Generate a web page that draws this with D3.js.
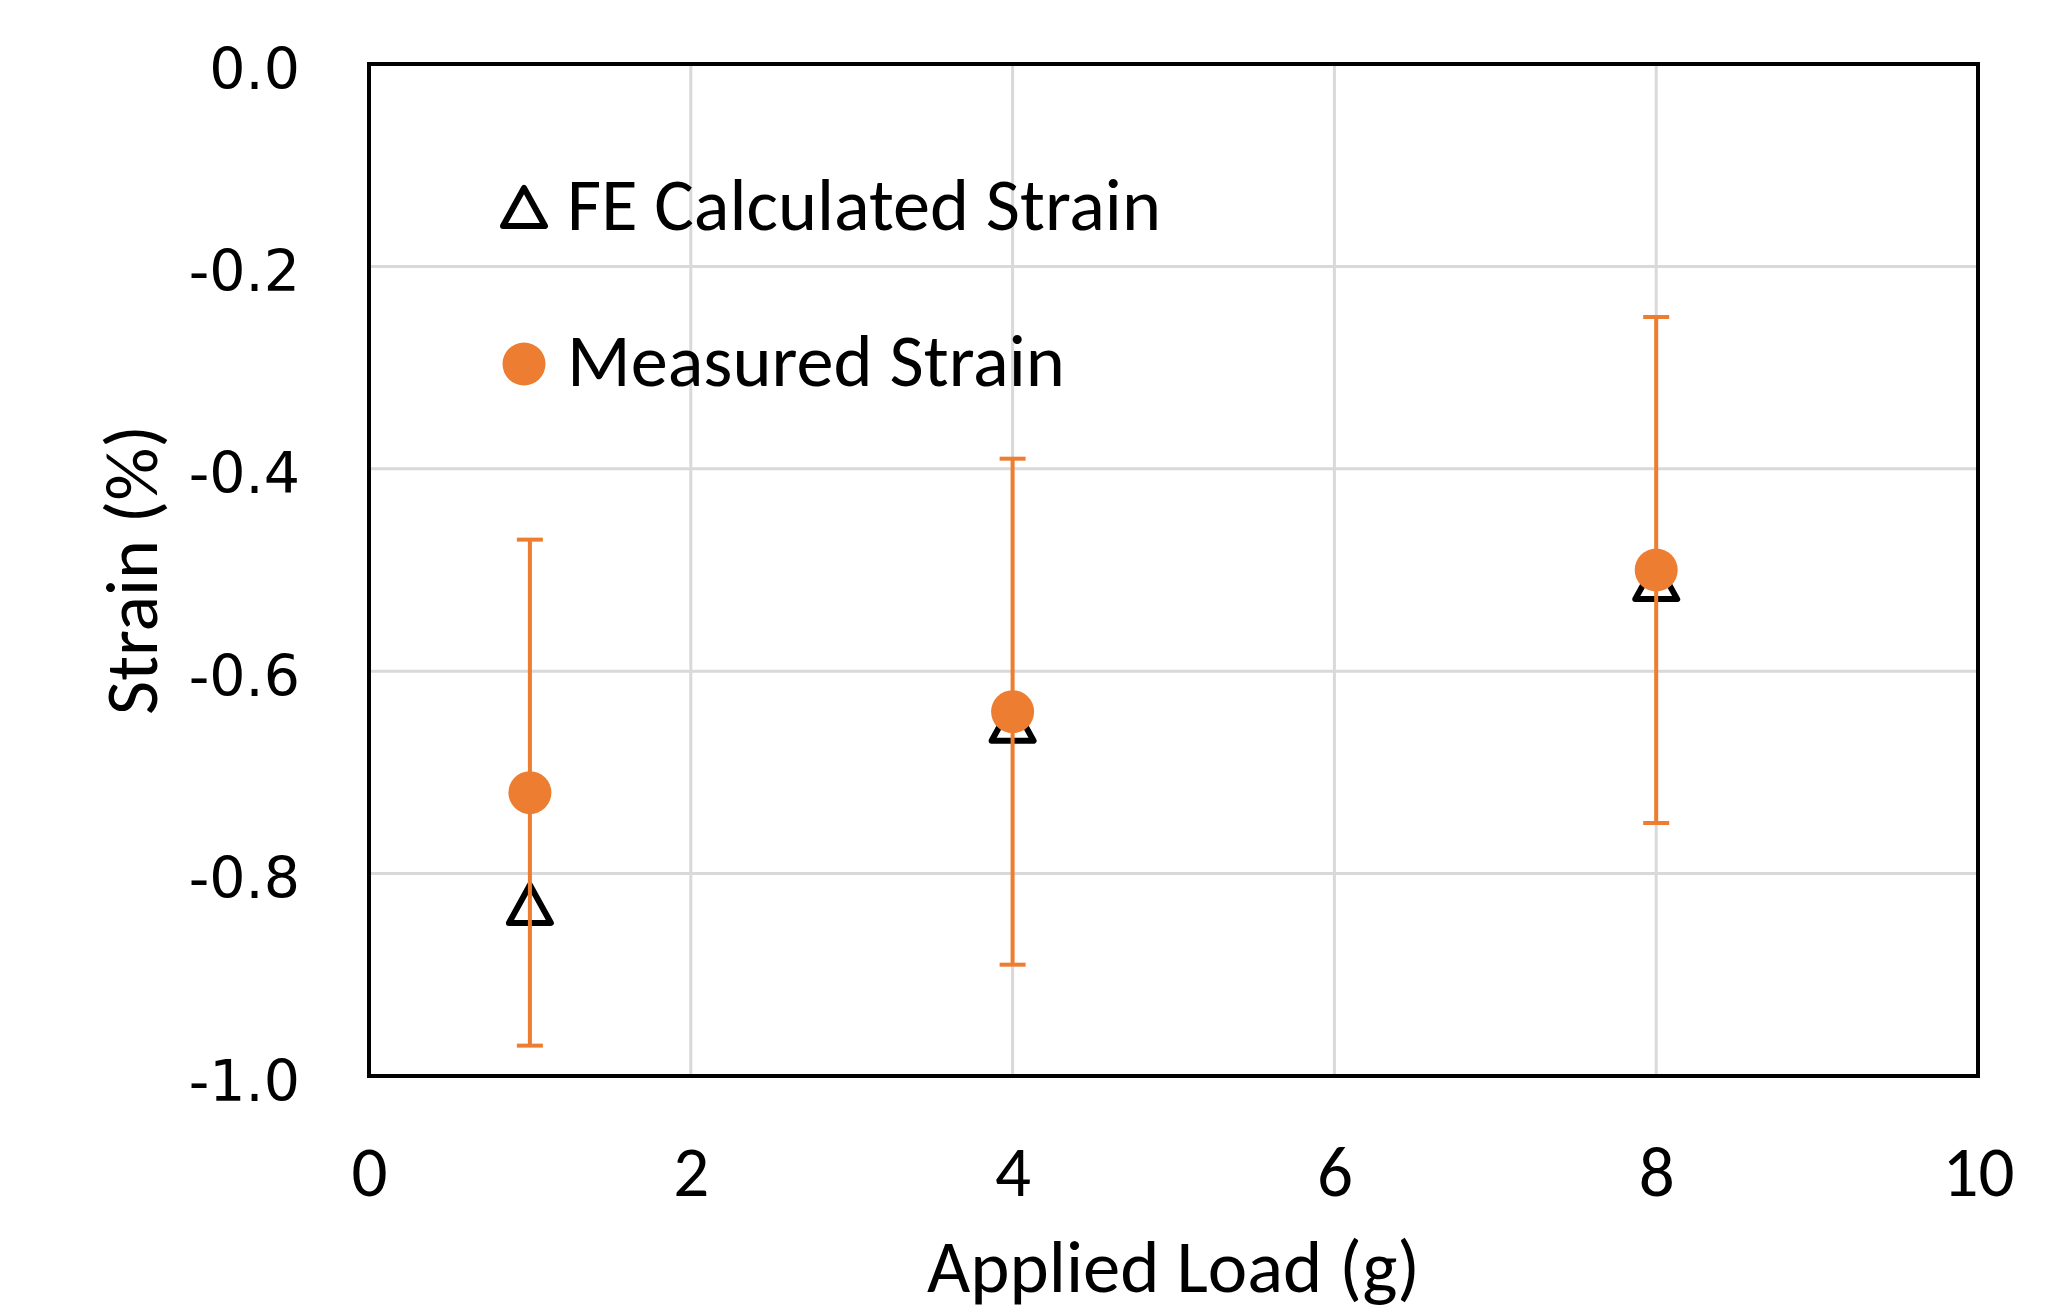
<!DOCTYPE html>
<html>
<head>
<meta charset="utf-8">
<script src="https://cdn.jsdelivr.net/npm/d3@7"></script>
<style>
  html, body { margin: 0; padding: 0; background: #ffffff; }
  svg { display: block; }
</style>
</head>
<body>
<svg id="chart" width="2066" height="1315"></svg>
<script>
// ---- Data ----
const xTickValues = [0, 2, 4, 6, 8, 10];
const yTickValues = [0, -0.2, -0.4, -0.6, -0.8, -1.0];
const appliedLoad = [1, 4, 8];
const feCalculatedStrain = [-0.83, -0.65, -0.51];
const measuredStrain = [-0.72, -0.64, -0.50];
const measuredErrorPlus = [0.25, 0.25, 0.25];
const measuredErrorMinus = [0.25, 0.25, 0.25];
const seriesNames = ["FE Calculated Strain", "Measured Strain"];
const xAxisTitle = "Applied Load (g)";
const yAxisTitle = "Strain (%)";

// ---- Layout / style ----
const W = 2066, H = 1315;
const plot = { left: 369, right: 1978, top: 64, bottom: 1076 };
const ORANGE = "#ED7D31";
const GRID = "#D9D9D9";
const labelFont = "Carlito, Lato, 'Open Sans', sans-serif";
const tickFontY = "'DejaVu Sans', Verdana, sans-serif";

const svg = d3.select("#chart");

const x = d3.scaleLinear().domain([0, 10]).range([plot.left, plot.right]);
const y = d3.scaleLinear().domain([-1.0, 0]).range([plot.bottom, plot.top]);

// fit text to a target width by adjusting font-size
function fitWidth(sel, target) {
  const node = sel.node();
  const fs = parseFloat(sel.attr("font-size"));
  const w = node.getComputedTextLength();
  if (w > 0) sel.attr("font-size", (fs * target / w).toFixed(2));
}

// ---- Gridlines ----
const gridG = svg.append("g");
gridG.selectAll("line.v")
  .data(xTickValues.filter(v => v > 0 && v < 10))
  .join("line")
  .attr("x1", d => x(d)).attr("x2", d => x(d))
  .attr("y1", plot.top).attr("y2", plot.bottom)
  .attr("stroke", GRID).attr("stroke-width", 3);
gridG.selectAll("line.h")
  .data(yTickValues.filter(v => v < 0 && v > -1))
  .join("line")
  .attr("x1", plot.left).attr("x2", plot.right)
  .attr("y1", d => y(d)).attr("y2", d => y(d))
  .attr("stroke", GRID).attr("stroke-width", 3);

// ---- Axes (labels only) ----
const xAxis = d3.axisBottom(x).tickValues(xTickValues).tickSize(0).tickFormat(d3.format("d"));
const xg = svg.append("g").attr("transform", `translate(0,${plot.bottom})`).call(xAxis);
xg.select(".domain").remove();
xg.selectAll("text")
  .attr("y", 120).attr("dy", 0)
  .attr("font-family", labelFont).attr("font-size", 70)
  .attr("fill", "#000");

const yAxis = d3.axisLeft(y).tickValues(yTickValues).tickSize(0).tickFormat(d3.format(".1f"));
const yg = svg.append("g").attr("transform", `translate(${plot.left},0)`).call(yAxis);
yg.select(".domain").remove();
yg.selectAll("text")
  .attr("x", -69).attr("dy", 24)
  .attr("font-family", tickFontY).attr("font-size", 57)
  .attr("fill", "#000")
  .text(d => d === 0 ? "0.0" : d3.format(".1f")(d).replace("−", "-"));

// fit x tick size using "10"
{
  const t10 = xg.selectAll("text").filter(d => d === 10);
  fitWidth(t10, 72);
  const fs = t10.attr("font-size");
  xg.selectAll("text").attr("font-size", fs);
}

// ---- Plot border ----
svg.append("rect")
  .attr("x", plot.left).attr("y", plot.top)
  .attr("width", plot.right - plot.left).attr("height", plot.bottom - plot.top)
  .attr("fill", "none").attr("stroke", "#000").attr("stroke-width", 4);

// ---- Markers ----
const triW = 42, triH = 38;
const triPath = `M0,${-triH/2} L${triW/2},${triH/2} L${-triW/2},${triH/2} Z`;

const series = appliedLoad.map((l, i) => ({
  load: l, fe: feCalculatedStrain[i], meas: measuredStrain[i],
  hi: measuredStrain[i] + measuredErrorPlus[i], lo: measuredStrain[i] - measuredErrorMinus[i]
}));

svg.append("g").selectAll("path")
  .data(series).join("path")
  .attr("d", triPath)
  .attr("transform", d => `translate(${x(d.load)},${y(d.fe)})`)
  .attr("fill", "none").attr("stroke", "#000").attr("stroke-width", 6)
  .attr("stroke-linejoin", "round");

const eb = svg.append("g");
const capW = 26;
const ebW = 4;
eb.selectAll("line.stem").data(series).join("line")
  .attr("x1", d => x(d.load)).attr("x2", d => x(d.load))
  .attr("y1", d => y(d.hi)).attr("y2", d => y(d.lo))
  .attr("stroke", ORANGE).attr("stroke-width", ebW);
eb.append("g").selectAll("line").data(series).join("line")
  .attr("x1", d => x(d.load) - capW/2).attr("x2", d => x(d.load) + capW/2)
  .attr("y1", d => y(d.hi)).attr("y2", d => y(d.hi))
  .attr("stroke", ORANGE).attr("stroke-width", ebW);
eb.append("g").selectAll("line").data(series).join("line")
  .attr("x1", d => x(d.load) - capW/2).attr("x2", d => x(d.load) + capW/2)
  .attr("y1", d => y(d.lo)).attr("y2", d => y(d.lo))
  .attr("stroke", ORANGE).attr("stroke-width", ebW);

svg.append("g").selectAll("circle")
  .data(series).join("circle")
  .attr("cx", d => x(d.load)).attr("cy", d => y(d.meas))
  .attr("r", 21.5).attr("fill", ORANGE);

// ---- Legend ----
const leg = svg.append("g");
leg.append("path")
  .attr("d", triPath)
  .attr("transform", `translate(524,207)`)
  .attr("fill", "none").attr("stroke", "#000").attr("stroke-width", 6)
  .attr("stroke-linejoin", "round");
const l1 = leg.append("text")
  .attr("x", 567).attr("y", 230)
  .attr("font-family", labelFont).attr("font-size", 70).attr("fill", "#000")
  .text(seriesNames[0]);
fitWidth(l1, 594);
leg.append("circle").attr("cx", 524).attr("cy", 364).attr("r", 21.5).attr("fill", ORANGE);
const l2 = leg.append("text")
  .attr("x", 567).attr("y", 386)
  .attr("font-family", labelFont).attr("font-size", 70).attr("fill", "#000")
  .text(seriesNames[1]);
fitWidth(l2, 498);

// ---- Axis titles ----
const xt = svg.append("text")
  .attr("x", (plot.left + plot.right) / 2).attr("y", 1292)
  .attr("text-anchor", "middle")
  .attr("font-family", labelFont).attr("font-size", 70).attr("fill", "#000")
  .text(xAxisTitle);
fitWidth(xt, 493);

const yt = svg.append("text")
  .attr("transform", `translate(157,${(plot.top + plot.bottom) / 2}) rotate(-90)`)
  .attr("text-anchor", "middle")
  .attr("font-family", labelFont).attr("font-size", 70).attr("fill", "#000")
  .text(yAxisTitle);
fitWidth(yt, 290);
</script>
</body>
</html>
